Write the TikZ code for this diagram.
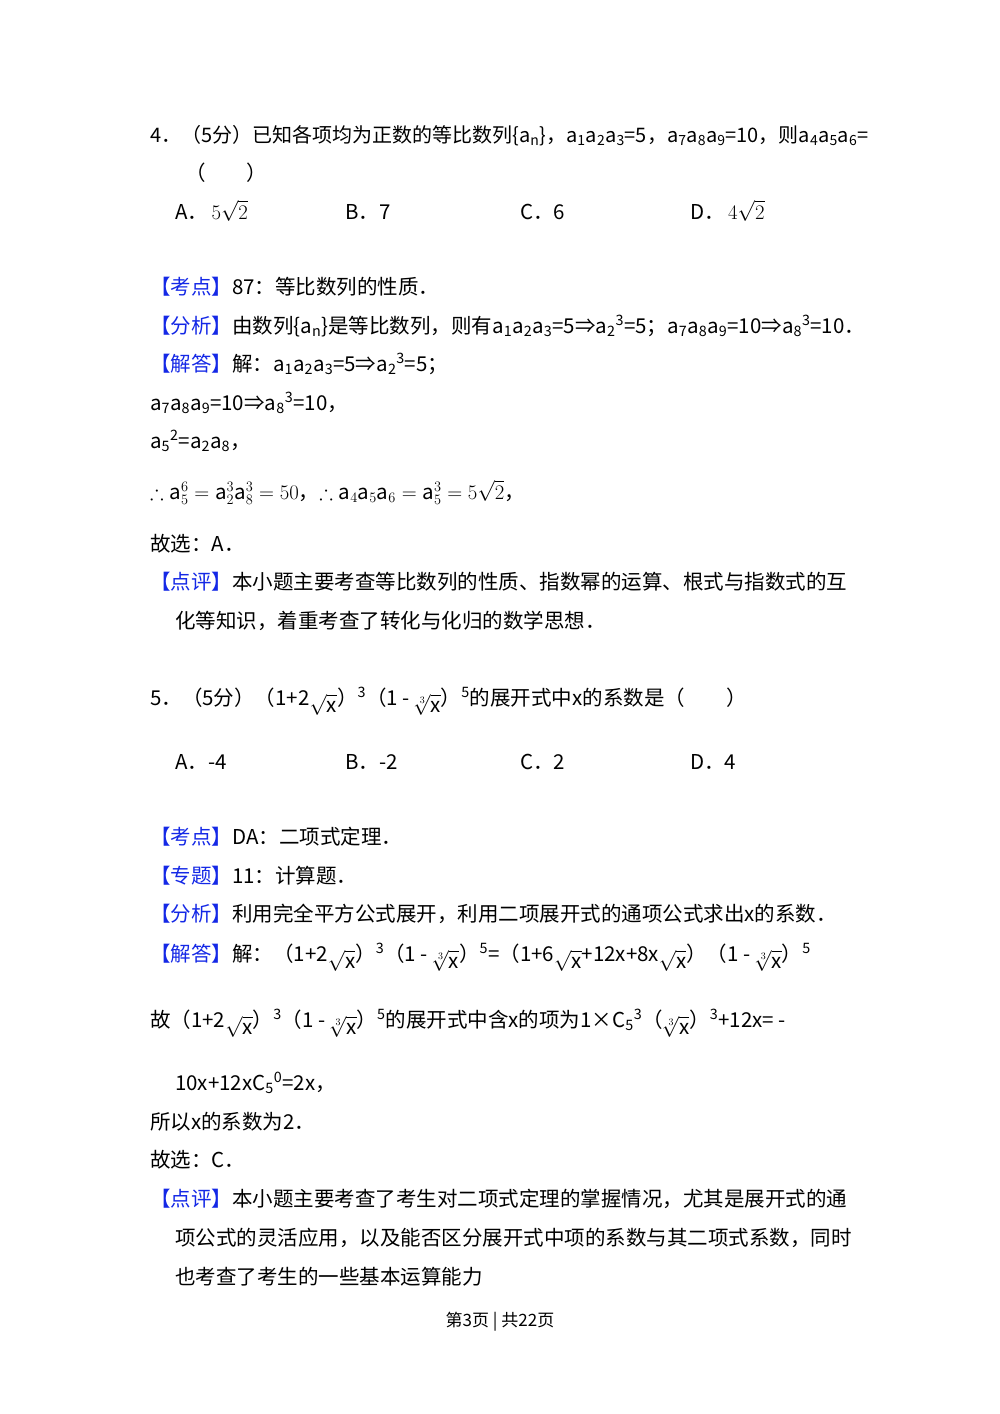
\documentclass[tikz,border=0pt]{standalone}
\usepackage{amssymb}
\usepackage{fontspec}
\setmainfont{Noto Sans CJK SC}
\usetikzlibrary{positioning}
\definecolor{kblue}{RGB}{20,40,230}
\newcommand{\kb}[1]{\textcolor{kblue}{【#1】}}
\newcommand{\sqx}{\raisebox{-7pt}{$\sqrt{\mathrm{x}}$}}
\newcommand{\cqx}{\raisebox{-7pt}{$\sqrt[3]{\mathrm{x}}$}}
\newcommand{\sbs}[1]{\textsubscript{#1}}
\newcommand{\sps}[1]{\textsuperscript{#1}}
\begin{document}
\begin{tikzpicture}[x=1pt,y=-1pt,every node/.style={anchor=base west,inner sep=0pt,font=\fontsize{20.5}{24}\selectfont}]
\useasboundingbox (0,0) rectangle (1000,1414);
\node[font=\fontsize{20}{24}\selectfont] (l1) at (150,142) {4．（5分）已知各项均为正数的等比数列\{a\sbs{n}\}，a\sbs1a\sbs2a\sbs3=5，a\sbs7a\sbs8a\sbs9=10，则a\sbs4a\sbs5a\sbs6=};
\node (l2) at (185,180) {（\quad\quad）};
\node (a1) at (175,219) {A．\,$5\sqrt{2}$};
\node (b1) at (345,219) {B．7};
\node (c1) at (520,219) {C．6};
\node (d1) at (690,219) {D．\,$4\sqrt{2}$};
\node (k1) at (150,294) {\kb{考点}87：等比数列的性质．};
\node (f1) at (150,333) {\kb{分析}由数列\{a\sbs{n}\}是等比数列，则有a\sbs1a\sbs2a\sbs3=5⇒a\sbs2\sps3=5；a\sbs7a\sbs8a\sbs9=10⇒a\sbs8\sps3=10．};
\node (j1) at (150,371) {\kb{解答}解：a\sbs1a\sbs2a\sbs3=5⇒a\sbs2\sps3=5；};
\node (j2) at (150,410) {a\sbs7a\sbs8a\sbs9=10⇒a\sbs8\sps3=10，};
\node (j3) at (150,448) {a\sbs5\sps2=a\sbs2a\sbs8，};
\node (j4) at (150,499) {$\therefore \mathrm{a}_5^6=\mathrm{a}_2^3\mathrm{a}_8^3=50$，$\therefore \mathrm{a}_4\mathrm{a}_5\mathrm{a}_6=\mathrm{a}_5^3=5\sqrt{2}$，};
\node (g1) at (150,551) {故选：A．};
\node (p1) at (150,589) {\kb{点评}本小题主要考查等比数列的性质、指数幂的运算、根式与指数式的互};
\node (p2) at (175,628) {化等知识，着重考查了转化与化归的数学思想．};
\node (q5) at (150,705) {5．（5分）（1+2\sqx）\sps3（1 - \cqx）\sps5的展开式中x的系数是（\quad\quad）};
\node (a2) at (175,769) {A．-4};
\node (b2) at (345,769) {B．-2};
\node (c2) at (520,769) {C．2};
\node (d2) at (690,769) {D．4};
\node (k2) at (150,844) {\kb{考点}DA：二项式定理．};
\node (z2) at (150,883) {\kb{专题}11：计算题．};
\node (f2) at (150,921) {\kb{分析}利用完全平方公式展开，利用二项展开式的通项公式求出x的系数．};
\node (s1) at (150,961) {\kb{解答}解：（1+2\sqx）\sps3（1 - \cqx）\sps5=（1+6\sqx+12x+8x\sqx）（1 - \cqx）\sps5};
\node (s2) at (150,1027) {故（1+2\sqx）\sps3（1 - \cqx）\sps5的展开式中含x的项为1×C\sbs5\sps3（\cqx）\sps3+12x= -};
\node (s3) at (175,1090) {10x+12xC\sbs5\sps0=2x，};
\node (s4) at (150,1129) {所以x的系数为2．};
\node (g2) at (150,1167) {故选：C．};
\node (p3) at (150,1206) {\kb{点评}本小题主要考查了考生对二项式定理的掌握情况，尤其是展开式的通};
\node (p4) at (175,1245) {项公式的灵活应用，以及能否区分展开式中项的系数与其二项式系数，同时};
\node (p5) at (175,1284) {也考查了考生的一些基本运算能力};
\node[anchor=base,font=\fontsize{17}{20}\selectfont] (ft) at (500,1326) {第3页 | 共22页};
\end{tikzpicture}
\end{document}
